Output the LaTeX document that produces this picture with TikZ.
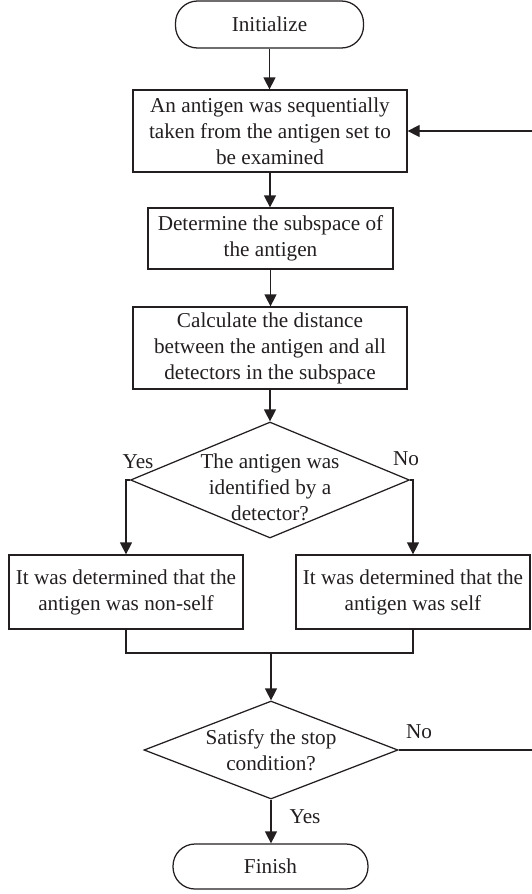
\documentclass[tikz,border=0pt]{standalone}
\usepackage{fontspec}
\setmainfont{Liberation Serif}
\usetikzlibrary{arrows.meta,shapes.geometric}
\definecolor{ink}{HTML}{231F20}
\begin{document}
\begin{tikzpicture}[x=1pt,y=-1pt, line width=1.25pt, color=ink,
  font=\fontsize{21.2}{26}\selectfont,
  box/.style={draw, rectangle, inner sep=0pt, align=center},
  term/.style={draw, rectangle, rounded corners=22pt, inner sep=0pt},
  dia/.style={draw, diamond, inner sep=0pt},
  arr/.style={-{Triangle[length=12pt,width=12pt]}},
  lab/.style={inner sep=0pt, align=center}]
\useasboundingbox (0,0) rectangle (532,894);

\node[term, minimum width=188pt, minimum height=47pt] (init) at (269.5,24.5) {Initialize};
\node[box, minimum width=274pt, minimum height=82pt] (b1) at (270,131) {An antigen was sequentially\\taken from the antigen set to\\be examined};
\node[box, minimum width=245pt, minimum height=61pt] (b2) at (270.5,238.5) {Determine the subspace of\\the antigen};
\node[box, minimum width=274pt, minimum height=82pt] (b3) at (270,348) {Calculate the distance\\between the antigen and all\\detectors in the subspace};
\node[dia, minimum width=279pt, minimum height=116pt] (d1) at (270,480) {};
\node[lab] (d1t) at (270,487) {The antigen was\\identified by a\\detector?};
\node[box, minimum width=234pt, minimum height=74pt] (bl) at (126,592) {It was determined that the\\antigen was non-self};
\node[box, minimum width=234pt, minimum height=74pt] (br) at (413,592) {It was determined that the\\antigen was self};
\node[dia, minimum width=254pt, minimum height=98pt] (d2) at (271,750) {};
\node[lab] (d2t) at (271,750) {Satisfy the stop\\condition?};
\node[term, minimum width=195pt, minimum height=45pt] (fin) at (270.5,866.5) {Finish};

\node[lab] (yes1) at (138,462) {Yes};
\node[lab] (no1) at (406,459) {No};
\node[lab] (no2) at (419,732) {No};
\node[lab] (yes2) at (305,817) {Yes};

\coordinate (m) at (271,653);
\coordinate (fr) at (534,750);

\draw[arr] (init.south) -- (init.south |- b1.north);
\draw[arr] (b1.south) -- (b1.south |- b2.north);
\draw[arr] (b2.south) -- (b2.south |- b3.north);
\draw[arr] (b3.south) -- (b3.south |- d1.north);
\draw[arr] (d1.west) -| (bl.north);
\draw[arr] (d1.east) -| (br.north);
\draw (bl.south) -- (bl.south |- m) -- (br.south |- m) -- (br.south);
\draw[arr] (m) -- (m |- d2.north);
\draw[arr] (d2.south) -- (d2.south |- fin.north);
\draw[arr] (d2.east) -- (fr) -- (fr |- b1.east) -- (b1.east);
\end{tikzpicture}
\end{document}
